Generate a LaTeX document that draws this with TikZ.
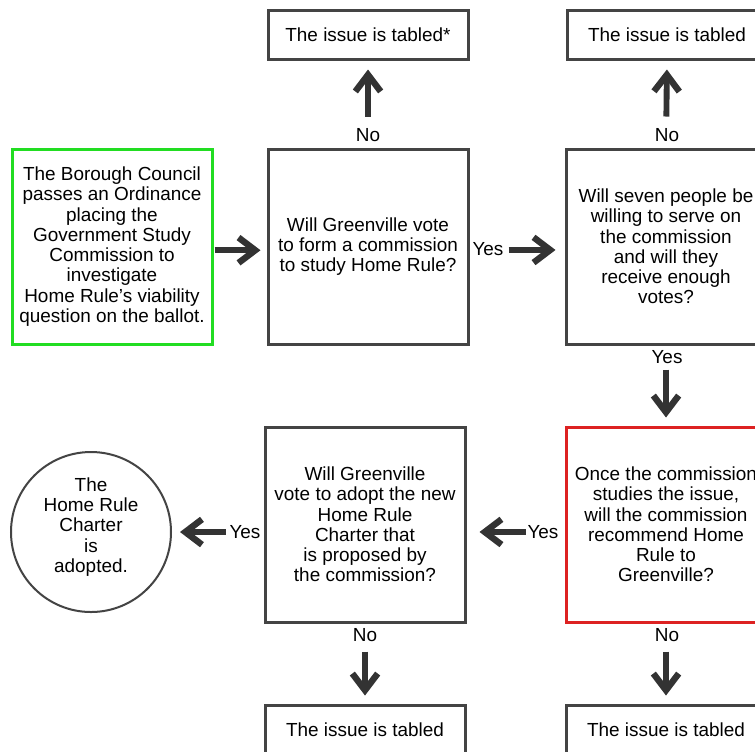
\documentclass[tikz,border=0pt]{standalone}
\usepackage{fontspec}
\setmainfont{Liberation Sans}
\usetikzlibrary{arrows.meta}
\definecolor{boxgray}{HTML}{444444}
\definecolor{arrgray}{HTML}{333333}
\definecolor{boxgreen}{HTML}{22DD22}
\definecolor{boxred}{HTML}{DD2222}
\tikzset{
  txt/.style={font=\fontsize{14.2pt}{15.2pt}\selectfont, align=center, text=black},
  qbox/.style={txt, draw=boxgray, line width=2.25pt, minimum width=150pt, minimum height=146.25pt, inner sep=0pt},
  tbox/.style={txt, draw=boxgray, line width=2.25pt, minimum width=150pt, minimum height=36.75pt, inner sep=0pt},
  cbox/.style={txt, draw=boxgray, line width=1.5pt, circle, minimum size=120pt, inner sep=0pt},
  lab/.style={txt, inner sep=0pt},
  arr/.style={draw=arrgray, line width=4.4pt, -{Straight Barb[length=12.5pt,width=19pt,line width'=4.8pt,sharp]}},
}
\begin{document}
\begin{tikzpicture}[x=0.75pt,y=-0.75pt]
\useasboundingbox (0,0) rectangle (755,751);
\clip (0,0) rectangle (755,751);
\fill[white] (0,0) rectangle (755,751);
% boxes
\node[tbox] (tab1) at (368,34.5) {The issue is tabled*};
\node[tbox] (tab2) at (667,34.5) {The issue is tabled};
\node[qbox, draw=boxgreen] (green) at (112,246.5) {The Borough Council\\passes an Ordinance\\placing the\\Government Study\\Commission to\\investigate\\Home Rule’s viability\\question on the ballot.};
\node[qbox] (q1) at (368,246.5) {Will Greenville vote\\to form a commission\\to study Home Rule?};
\node[qbox] (q2) at (666,246.5) {Will seven people be\\willing to serve on\\the commission\\and will they\\receive enough\\votes?};
\node[qbox, draw=boxred] (red) at (666,524.5) {Once the commission\\studies the issue,\\will the commission\\recommend Home\\Rule to\\Greenville?};
\node[qbox] (q3) at (365,524.5) {Will Greenville\\vote to adopt the new\\Home Rule\\Charter that\\is proposed by\\the commission?};
\node[cbox] (circ) at (91,532) {};
\node[lab] (ctext) at (91,527) {The\\Home Rule\\Charter\\is\\adopted.};
\node[tbox] (tab3) at (365,729.5) {The issue is tabled};
\node[tbox] (tab4) at (666,729.5) {The issue is tabled};
% labels
\node[lab] (l1) at (368,135) {No};
\node[lab] (l2) at (667,135) {No};
\node[lab] (l3) at (488,249) {Yes};
\node[lab] (l4) at (667,357) {Yes};
\node[lab] (l5) at (543,532) {Yes};
\node[lab] (l6) at (245,532) {Yes};
\node[lab] (l7) at (365,635) {No};
\node[lab] (l8) at (667,635) {No};
% connectors
\draw[arr, shorten <=23.25pt, shorten >=6.75pt] (q1.north) -- (tab1.south);
\draw[arr, shorten <=23.25pt, shorten >=6.75pt] (q2.north) -- (tab2.south);
\draw[arr, shorten <=0.75pt, shorten >=4.5pt] ([yshift=-2.8pt]green.east) -- ([yshift=-2.8pt]q1.west);
\draw[arr, shorten <=29.25pt, shorten >=6.75pt] ([yshift=-2.6pt]q1.east) -- ([yshift=-2.6pt]q2.west);
\draw[arr, shorten <=18pt, shorten >=6pt] (q2.south) -- (red.north);
\draw[arr, shorten <=29.25pt, shorten >=9.75pt] ([yshift=-5.6pt]red.west) -- ([yshift=-5.6pt]q3.east);
\draw[arr, shorten <=28.5pt, shorten >=6pt] (q3.west |- circ.east) -- (circ.east);
\draw[arr, shorten <=21pt, shorten >=6pt] (q3.south) -- (tab3.north);
\draw[arr, shorten <=21pt, shorten >=6pt] (red.south) -- (tab4.north);
\end{tikzpicture}
\end{document}
